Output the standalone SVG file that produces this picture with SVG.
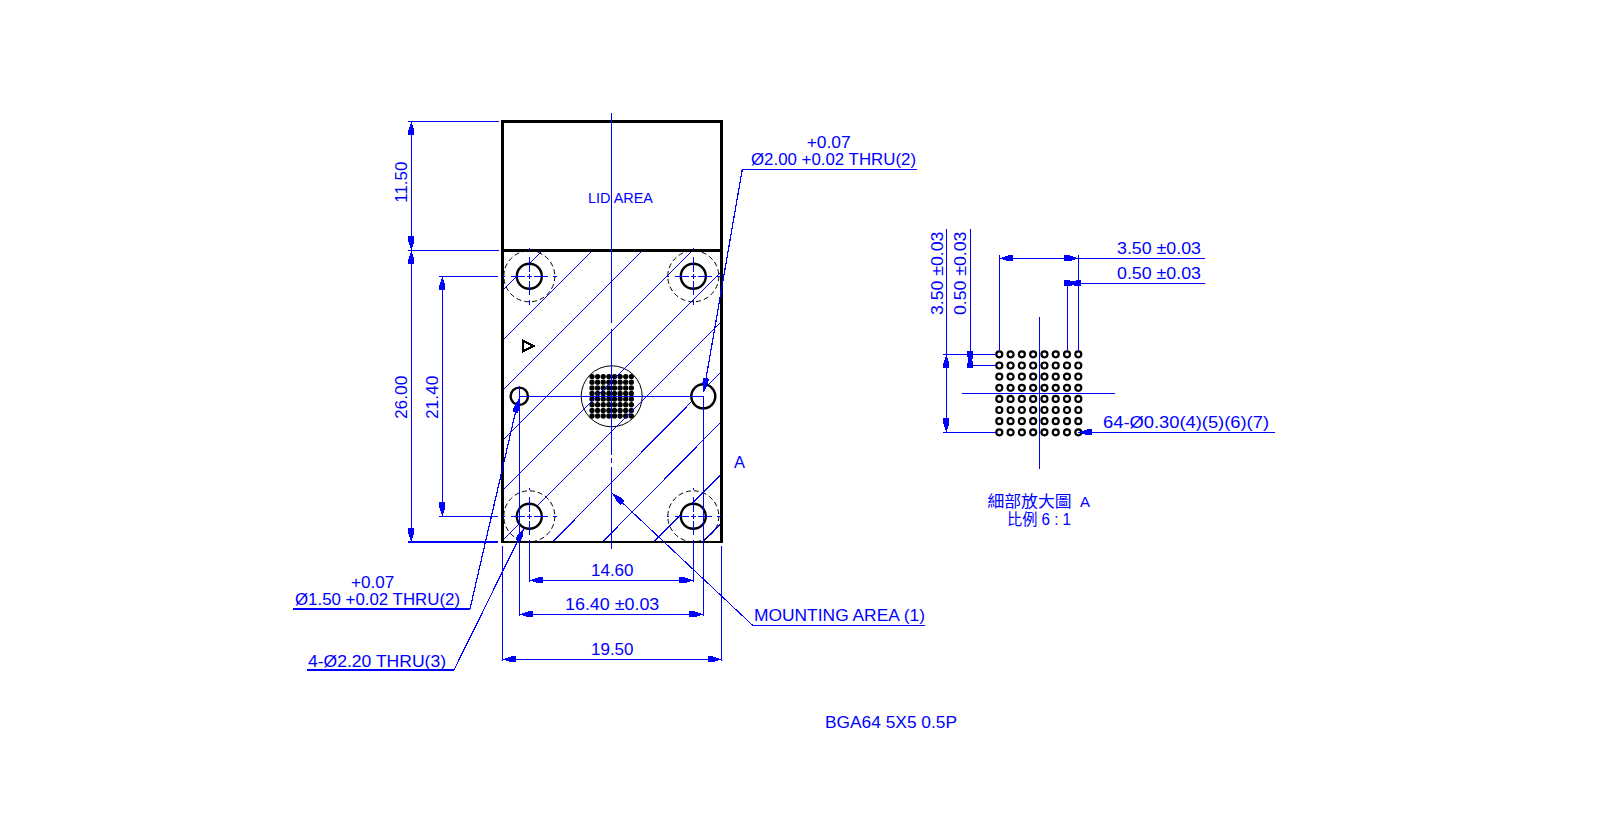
<svg xmlns="http://www.w3.org/2000/svg" xmlns:xlink="http://www.w3.org/1999/xlink" width="1621" height="824" viewBox="0 0 1621 824">
<style>
text{font-family:"Liberation Sans","Noto Sans CJK TC",sans-serif;font-size:16px;fill:#00f;stroke:none}
.cjk{font-family:"Noto Sans CJK TC","Liberation Sans",sans-serif}
path,rect{shape-rendering:crispEdges}
.b{fill:none;stroke:#00f;stroke-width:1.2}
.h{fill:none;stroke:#00f;stroke-width:1}
.c{fill:none;stroke:#00f;stroke-width:1.2}
.k{fill:none;stroke:#000;stroke-width:2.4}
.hole{fill:#fff;stroke:#000;stroke-width:2.4}
.d{fill:none;stroke:#000;stroke-width:1;stroke-dasharray:5 3}
.a{marker-start:url(#ar);marker-end:url(#ar)}
.e{marker-end:url(#ar)}
</style>
<defs>
<marker id="ar" markerUnits="userSpaceOnUse" markerWidth="16" markerHeight="8" refX="14" refY="4" orient="auto-start-reverse"><path d="M0 1.200H5.500L14 4L5.500 6.800H0z" fill="#00f"/></marker>
<g id="srow"><circle cx="0" r="2"/><circle cx="5.620" r="2"/><circle cx="11.240" r="2"/><circle cx="16.860" r="2"/><circle cx="22.480" r="2"/><circle cx="28.100" r="2"/><circle cx="33.720" r="2"/><circle cx="39.340" r="2"/></g>
<g id="drow"><circle cx="0" r="3"/><circle cx="11.290" r="3"/><circle cx="22.570" r="3"/><circle cx="33.860" r="3"/><circle cx="45.140" r="3"/><circle cx="56.430" r="3"/><circle cx="67.710" r="3"/><circle cx="79" r="3"/></g>
<g id="xh"><path class="c" d="M-26 0H-24M-18.700 0H-4.300M-2.700 0H3M4.700 0H19M24 0H28M0 -28V-26M0 -19V-4.300M0 -2.700V3M0 4.700V19M0 24V29"/></g>
</defs>
<rect width="1621" height="824" fill="#fff"/>

<g id="part">
<g id="bga-balls" fill="#000" stroke="#000" stroke-width="1.300">
<use href="#srow" x="592" y="376.600"/><use href="#srow" x="592" y="382.200"/><use href="#srow" x="592" y="387.900"/><use href="#srow" x="592" y="393.500"/><use href="#srow" x="592" y="399.100"/><use href="#srow" x="592" y="404.700"/><use href="#srow" x="592" y="410.400"/><use href="#srow" x="592" y="416"/>
<circle cx="611.700" cy="396.300" r="30.500" fill="none" stroke-width="1"/>
</g>
<g id="hatch"><path class="h" d="M502.500 290.500L543 250M502.500 340.500L593 250M502.500 390.500L643 250M502.500 440.500L693 250M502.500 490.500L721.500 271.500M502.500 540.500L721.500 321.500M553 541.500L721.500 371.500M603 541.500L721.500 421.500M654 541.500L721.500 474M703 541.500L721.500 523"/></g>
<rect id="outline" x="502.500" y="121.300" width="219" height="420.700" class="k"/>
<path class="k" d="M502.500 250.300H721.500"/>
<path class="k" d="M522.700 340.700L533.300 346L522.700 351.300Z"/>
<g id="holes">
<circle class="d" cx="529.300" cy="276.300" r="25.500"/><circle class="d" cx="693.300" cy="276.300" r="25.500"/><circle class="d" cx="529.300" cy="516.300" r="25.500"/><circle class="d" cx="693.300" cy="516.300" r="25.500"/>
<circle class="hole" cx="529.300" cy="276.300" r="12.500"/><circle class="hole" cx="693.300" cy="276.300" r="12.500"/><circle class="hole" cx="529.300" cy="516.300" r="12.500"/><circle class="hole" cx="693.300" cy="516.300" r="12.500"/>
<circle class="hole" cx="519.300" cy="396.300" r="8.700"/><circle class="hole" cx="703.300" cy="396.300" r="12"/>
<use href="#xh" x="529.300" y="276.300"/><use href="#xh" x="693.300" y="276.300"/><use href="#xh" x="529.300" y="516.300"/><use href="#xh" x="693.300" y="516.300"/>
</g>
<path class="b" d="M611.500 113V323M611.500 329V455M611.500 458V463M611.500 467V549M519.300 396.300H703.300M519.300 386V396.300"/>
</g>

<g id="detail">
<g id="detail-balls" fill="#fff" stroke="#000" stroke-width="2.200">
<use href="#drow" x="999.300" y="354.300"/><use href="#drow" x="999.300" y="365.500"/><use href="#drow" x="999.300" y="376.600"/><use href="#drow" x="999.300" y="387.800"/><use href="#drow" x="999.300" y="398.900"/><use href="#drow" x="999.300" y="410"/><use href="#drow" x="999.300" y="421.200"/><use href="#drow" x="999.300" y="432.300"/>
</g>
<path class="b" d="M1039.300 317.300V468.700M962 393.300H1115"/>
</g>

<g id="connectors">
<path class="b" d="M408 121.300H499M408 250.300H499M439 276.300H498M408 542H498M439 516.300H498"/>
<path class="b a" d="M411.300 121.300V250.300"/><path class="b a" d="M411.300 250.300V542"/><path class="b a" d="M442.300 276.300V516.300"/>
<path class="b" d="M693.300 545V582M703.300 396.300V616M519.300 396.300V616M529.300 545V582M502.300 546V661M721.700 546V661"/>
<path class="b a" d="M529.300 580.300H693.300"/><path class="b a" d="M519.300 614.300H703.300"/><path class="b a" d="M502.300 659.300H721.700"/>
<path class="b e" d="M293 609H470L518.500 399"/>
<path class="b e" d="M307 670H454L524 528"/>
<path class="b e" d="M917 169.300H742.300L703.700 392"/>
<path class="h e" d="M925 625H752.300L612.300 493.300"/>
<path class="b" d="M999.300 255V350M1078.300 255V350M1067.300 281V350M946.300 229V429M970.300 229V352M943 354.300H996M968 365.300H996M943 432.300H996"/>
<path class="b a" d="M999.300 258.300H1078.300"/><path class="b" d="M1078.300 258.300H1205"/>
<path class="b a" d="M1067.300 283.300H1078.300"/><path class="b" d="M1078.300 283.300H1205"/>
<path class="b a" d="M946.300 354.300V432.300"/><path class="b a" d="M970.300 354.300V365.300"/>
<path class="b e" d="M1275 432.300H1078.300"/>
</g>

<g id="labels">
<text x="588" y="203" textLength="65" lengthAdjust="spacingAndGlyphs" style="font-size:14px">LID AREA</text>
<text transform="translate(407 202.700) rotate(-90)" textLength="41" lengthAdjust="spacingAndGlyphs">11.50</text>
<text transform="translate(407 419) rotate(-90)" textLength="43.300" lengthAdjust="spacingAndGlyphs">26.00</text>
<text transform="translate(437.700 419) rotate(-90)" textLength="43.300" lengthAdjust="spacingAndGlyphs">21.40</text>
<text x="806.700" y="147.700" textLength="44" lengthAdjust="spacingAndGlyphs">+0.07</text>
<text x="751" y="165" textLength="165" lengthAdjust="spacingAndGlyphs">Ø2.00 +0.02 THRU(2)</text>
<text x="351" y="587.700" textLength="43.300" lengthAdjust="spacingAndGlyphs">+0.07</text>
<text x="295" y="605" textLength="165" lengthAdjust="spacingAndGlyphs">Ø1.50 +0.02 THRU(2)</text>
<text x="308" y="667" textLength="138" lengthAdjust="spacingAndGlyphs">4-Ø2.20 THRU(3)</text>
<text x="591" y="575.700" textLength="42.500" lengthAdjust="spacingAndGlyphs">14.60</text>
<text x="565" y="610.300" textLength="94.300" lengthAdjust="spacingAndGlyphs">16.40 ±0.03</text>
<text x="591" y="655.300" textLength="42.500" lengthAdjust="spacingAndGlyphs">19.50</text>
<text x="754" y="620.700" textLength="171" lengthAdjust="spacingAndGlyphs">MOUNTING AREA (1)</text>
<text x="734" y="468" textLength="11" lengthAdjust="spacingAndGlyphs">A</text>
<text x="825" y="727.600" textLength="132" lengthAdjust="spacingAndGlyphs">BGA64 5X5 0.5P</text>
<text transform="translate(942.500 315) rotate(-90)" textLength="83.300" lengthAdjust="spacingAndGlyphs">3.50 ±0.03</text>
<text transform="translate(966.200 315) rotate(-90)" textLength="83.300" lengthAdjust="spacingAndGlyphs">0.50 ±0.03</text>
<text x="1117" y="254" textLength="84" lengthAdjust="spacingAndGlyphs">3.50 ±0.03</text>
<text x="1117" y="279" textLength="84" lengthAdjust="spacingAndGlyphs">0.50 ±0.03</text>
<text x="1103" y="428.300" textLength="166" lengthAdjust="spacingAndGlyphs">64-Ø0.30(4)(5)(6)(7)</text>
<text class="cjk" x="987.500" y="507" textLength="84" lengthAdjust="spacingAndGlyphs">細部放大圖</text>
<text x="1080" y="507" textLength="10" lengthAdjust="spacingAndGlyphs" style="font-size:14px">A</text>
<text x="1007" y="525" textLength="64" lengthAdjust="spacingAndGlyphs">比例 6 : 1</text>
</g>
</svg>
